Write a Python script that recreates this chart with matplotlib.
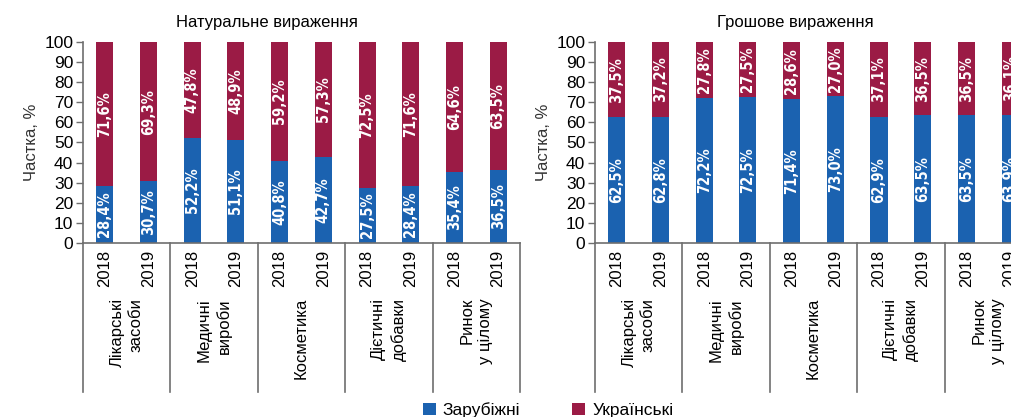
import numpy as np
import matplotlib
matplotlib.use('Agg')
import matplotlib.pyplot as plt
import matplotlib.transforms as mtransforms

plt.rcParams['font.family'] = ['Liberation Sans', 'DejaVu Sans']

categories = ['Лікарські\nзасоби', 'Медичні\nвироби', 'Косметика',
              'Дієтичні\nдобавки', 'Ринок\nу цілому']
years = ['2018', '2019']

# share of foreign / ukrainian products, %
nat_foreign = [28.4, 30.7, 52.2, 51.1, 40.8, 42.7, 27.5, 28.4, 35.4, 36.5]
nat_ukr = [71.6, 69.3, 47.8, 48.9, 59.2, 57.3, 72.5, 71.6, 64.6, 63.5]
money_foreign = [62.5, 62.8, 72.2, 72.5, 71.4, 73.0, 62.9, 63.5, 63.5, 63.9]
money_ukr = [37.5, 37.2, 27.8, 27.5, 28.6, 27.0, 37.1, 36.5, 36.5, 36.1]

blue = '#1b62b0'
red = '#9b1b45'
grey = '#6e6e6e'

fig = plt.figure(figsize=(10.11, 4.17), dpi=100)


def panel(rect, foreign, ukr, title, title_x):
    ax = fig.add_axes(rect)
    x = np.arange(len(foreign))
    b1 = ax.bar(x, foreign, width=0.39, color=blue, zorder=2)
    b2 = ax.bar(x, ukr, width=0.39, bottom=foreign, color=red, zorder=2)
    for xi, f, u in zip(x, foreign, ukr):
        for yc, v in [(f / 2, f), (f + u / 2, u)]:
            ax.text(xi, yc, ('%.1f%%' % v).replace('.', ','), rotation=90,
                    ha='center', va='center', color='white', fontsize=10.5,
                    family='DejaVu Sans', fontstretch='condensed',
                    weight='bold', zorder=3)
    ax.set_xlim(-0.5, 9.5)
    ax.set_ylim(0, 100)
    ax.set_yticks(np.arange(0, 101, 10))
    ax.tick_params(axis='y', labelsize=12.5, length=5, width=1, color=grey, pad=2)
    ax.set_xticks(x)
    ax.set_xticklabels(years * 5, rotation=90, fontsize=12)
    ax.tick_params(axis='x', length=0, pad=5)
    for s in ['top', 'right']:
        ax.spines[s].set_visible(False)
    for s in ['left', 'bottom']:
        ax.spines[s].set_color(grey)
        ax.spines[s].set_linewidth(1.2)
    ax.set_ylabel('Частка, %', fontsize=12, color='#333333', labelpad=4)
    trans = mtransforms.blended_transform_factory(ax.transData, ax.transAxes)
    for sx in np.arange(-0.5, 10, 2):
        ax.plot([sx, sx], [0, -0.741], transform=trans, color=grey, lw=1.2,
                clip_on=False)
    for i, c in enumerate(categories):
        ax.text(2 * i + 0.5, -0.274, c, transform=trans, rotation=90,
                ha='center', va='top', multialignment='right', fontsize=12,
                linespacing=1.35)
    fig.text(title_x, 0.945, title, ha='center', va='center', fontsize=12)
    return b1, b2


b1, b2 = panel([0.0821, 0.4173, 0.4322, 0.482], nat_foreign, nat_ukr,
               'Натуральне вираження', 267 / 1011)
panel([0.5885, 0.4173, 0.4322, 0.482], money_foreign, money_ukr,
      'Грошове вираження', 795 / 1011)

fig.legend([b1, b2], ['Зарубіжні', 'Українські'], loc='center',
           bbox_to_anchor=(548 / 1011, 1 - 410 / 417), ncol=2, frameon=False,
           handlelength=0.75, handleheight=0.75, handletextpad=0.4,
           columnspacing=3.0, prop={'size': 12.5})

fig.savefig('out.png', dpi=100)
